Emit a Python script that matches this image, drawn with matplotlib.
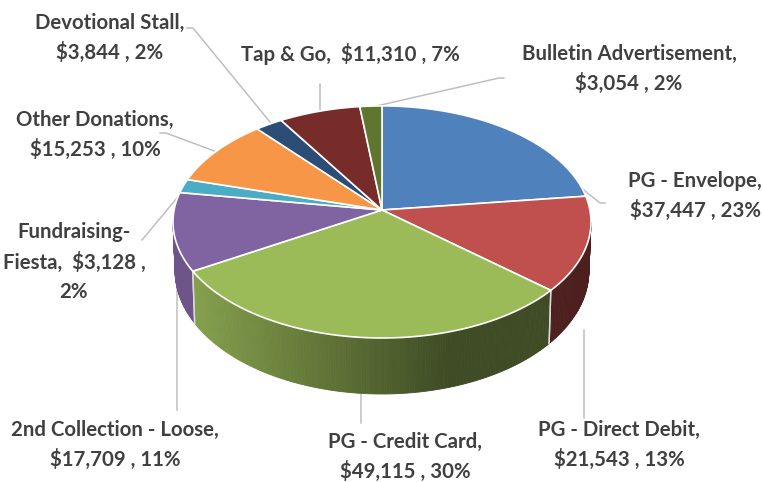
import numpy as np
import matplotlib
matplotlib.use("Agg")
import matplotlib.pyplot as plt

values = [37447, 21543, 49115, 17709, 3128, 15253, 3844, 11310, 3054]
labels = ["PG - Envelope,\n$37,447 , 23%",
          "PG - Direct Debit,\n$21,543 , 13%",
          "PG - Credit Card,\n$49,115 , 30%",
          "2nd Collection - Loose,\n$17,709 , 11%",
          "Fundraising-\nFiesta,  $3,128 ,\n2%",
          "Other Donations,\n$15,253 , 10%",
          "Devotional Stall,\n$3,844 , 2%",
          "Tap & Go,  $11,310 , 7%",
          "Bulletin Advertisement,\n$3,054 , 2%"]
colors = ["#4F81BD", "#C0504D", "#9BBB59", "#8064A2", "#4BACC6",
          "#F79646", "#2C4D75", "#772C2A", "#5F7530"]
label_pos = [(695, 196), (619, 445), (405, 457), (115, 445), (74, 262),
             (95, 135), (110, 38), (350, 54), (629, 69)]
leaders = [[(509, 130), (600, 203), (605, 203)],
           [(584, 330), (584, 418)],
           [(361, 394), (361, 423)],
           [(177, 280), (177, 410)],
           [(182, 192), (142, 240)],
           [(217, 152), (166, 133), (160, 133)],
           [(270, 122), (193, 28), (187, 28)],
           [(320, 112), (320, 84)],
           [(372, 107), (499, 78), (504, 78)]]

# perspective of the pie top
cx, cy = 382, 210
a, b, k = 207.9, 114.8, 0.103


def top_rim(t):
    u, v = np.sin(t), np.cos(t)
    w = 1 + k * v
    return cx + a * u / w, cy - b * v / w


def low_rim(t):
    x, y = top_rim(t)
    return cx + (x - cx) * 0.99, y + 48 - 8 * np.cos(t)


def shade(color, x):
    f = np.interp(x, [195, 450], [0.85, 0.4])
    return tuple(np.array(matplotlib.colors.to_rgb(color)) * f)


fig = plt.figure(figsize=(7.63, 4.82), dpi=100)
ax = fig.add_axes([0, 0, 1, 1])
ax.set_xlim(0, 763)
ax.set_ylim(482, 0)
ax.axis("off")

for pts in leaders:
    ax.plot([p[0] for p in pts], [p[1] for p in pts], color="#BFBFBF", lw=1.1, zorder=1)

edges = np.cumsum([0] + values) / sum(values) * 2 * np.pi
vis0 = np.pi / 2 + np.arcsin(k)
vis1 = 3 * np.pi / 2 - np.arcsin(k)

# walls
for i, c in enumerate(colors):
    t0, t1 = max(edges[i], vis0), min(edges[i + 1], vis1)
    if t1 <= t0:
        continue
    ts = np.linspace(t0, t1, max(int((t1 - t0) * 90), 2))
    for s0, s1 in zip(ts[:-1], ts[1:]):
        xa, ya = top_rim(np.array([s0, s1]))
        xb, yb = low_rim(np.array([s1, s0]))
        col = shade(c, (xa[0] + xa[1]) / 2)
        ax.fill(list(xa) + list(xb), list(ya) + list(yb), color=col, lw=0.6, zorder=2)
    for t in (edges[i], edges[i + 1]):
        if vis0 < t < vis1:
            x0, y0 = top_rim(t)
            x1, y1 = low_rim(t)
            ax.plot([x0, x1], [y0, y1], color="#D9D9D9", lw=1, zorder=3)

# top
for i, c in enumerate(colors):
    ts = np.linspace(edges[i], edges[i + 1], 80)
    x, y = top_rim(ts)
    ax.fill(np.r_[cx, x], np.r_[cy, y], facecolor=c, edgecolor="white", lw=1.2,
            joinstyle="round", zorder=4)

for txt, (x, y) in zip(labels, label_pos):
    ax.text(x, y, txt, ha="center", va="center", family="Lato", fontweight="bold",
            fontsize=14.7, color="#404040", linespacing=1.55, zorder=5)

fig.savefig("out.png", dpi=100)
